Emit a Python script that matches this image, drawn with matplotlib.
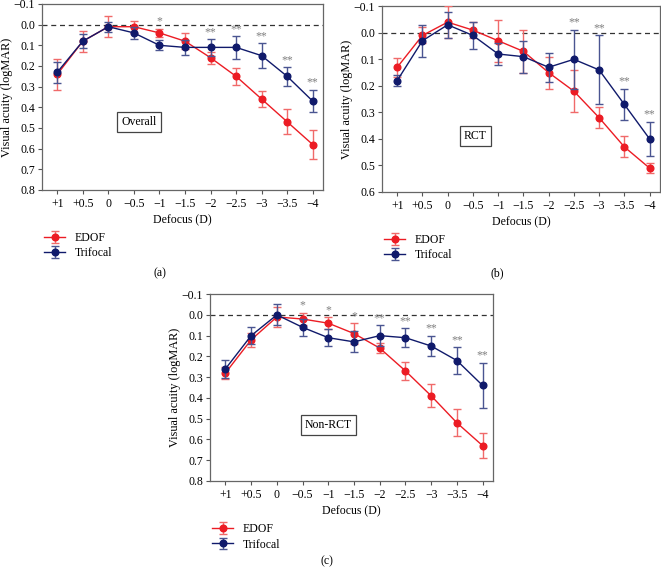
import numpy as np
import matplotlib
matplotlib.use("Agg")
import matplotlib.pyplot as plt

plt.rcParams['font.family'] = ['Liberation Serif', 'DejaVu Serif']

defocus = ["+1", "+0.5", "0", "\u22120.5", "\u22121", "\u22121.5", "\u22122",
           "\u22122.5", "\u22123", "\u22123.5", "\u22124"]

# (a) Overall
edof_a = [0.24, 0.08, 0.01, 0.01, 0.04, 0.08, 0.16, 0.25, 0.36, 0.47, 0.58]
edof_a_err = [0.075, 0.05, 0.05, 0.03, 0.02, 0.04, 0.03, 0.04, 0.04, 0.06, 0.07]
tri_a = [0.23, 0.08, 0.01, 0.04, 0.10, 0.11, 0.11, 0.11, 0.15, 0.25, 0.37]
tri_a_err = [0.05, 0.035, 0.025, 0.03, 0.025, 0.035, 0.04, 0.055, 0.06, 0.045, 0.055]
sig_a = ["", "", "", "", "*", "", "**", "**", "**", "**", "**"]

# (b) RCT
edof_b = [0.13, 0.01, -0.04, -0.01, 0.03, 0.07, 0.15, 0.22, 0.32, 0.43, 0.51]
edof_b_err = [0.035, 0.03, 0.06, 0.03, 0.08, 0.08, 0.06, 0.08, 0.04, 0.04, 0.02]
tri_b = [0.18, 0.03, -0.03, 0.01, 0.08, 0.09, 0.13, 0.10, 0.14, 0.27, 0.40]
tri_b_err = [0.02, 0.06, 0.05, 0.05, 0.04, 0.06, 0.055, 0.11, 0.13, 0.06, 0.065]
sig_b = ["", "", "", "", "", "", "", "**", "**", "**", "**"]

# (c) Non-RCT
edof_c = [0.28, 0.12, 0.01, 0.02, 0.04, 0.09, 0.16, 0.27, 0.39, 0.52, 0.63]
edof_c_err = [0.03, 0.035, 0.05, 0.03, 0.03, 0.05, 0.025, 0.045, 0.055, 0.065, 0.06]
tri_c = [0.26, 0.10, 0.00, 0.06, 0.11, 0.13, 0.10, 0.11, 0.15, 0.22, 0.34]
tri_c_err = [0.045, 0.04, 0.05, 0.04, 0.04, 0.05, 0.05, 0.045, 0.05, 0.065, 0.11]
sig_c = ["", "", "", "*", "*", "*", "**", "**", "**", "**", "**"]

RED = '#ec1c24'
NAVY = '#101a6b'
FIG_W = 661


def panel(ax, edof, edof_err, tri, tri_err, sig, ymax, name, box_x, box_y):
    x = np.arange(len(defocus))
    ax.axhline(0, color='#333333', ls=(0, (4, 3)), lw=0.9, zorder=1)
    ax.errorbar(x, edof, yerr=edof_err, color=RED, ecolor='#f06a6a',
                marker='o', ms=4.8, lw=1.0, elinewidth=1.0, capsize=3,
                capthick=1.0, label='EDOF', zorder=3)
    ax.errorbar(x, tri, yerr=tri_err, color=NAVY, ecolor='#4a5591',
                marker='o', ms=4.8, lw=1.0, elinewidth=1.0, capsize=3,
                capthick=1.0, label='Trifocal', zorder=4)
    for i, s in enumerate(sig):
        if s:
            top = min(edof[i] - edof_err[i], tri[i] - tri_err[i])
            ax.text(x[i], top - 0.005, s, ha='center', va='bottom',
                    fontsize=8.5, color='#808080')
    ax.set_xlim(-0.6, len(defocus) - 0.6)
    ax.set_ylim(ymax, -0.1)
    ax.set_yticks(np.arange(-0.1, ymax + 0.001, 0.1))
    ax.set_yticklabels(['\u22120.1'] + ['%.1f' % v for v in
                                        np.arange(0.0, ymax + 0.001, 0.1)])
    ax.set_xticks(x)
    ax.set_xticklabels(defocus)
    ax.tick_params(axis='y', labelsize=8.5, color='#555555', length=3, pad=2)
    ax.tick_params(axis='x', labelsize=8.5, color='#555555', length=3, pad=3)
    for sp in ax.spines.values():
        sp.set_color('#666666')
        sp.set_linewidth(0.9)
    ax.set_xlabel('Defocus (D)', fontsize=8.5, labelpad=3)
    ax.set_ylabel('Visual acuity (logMAR)', fontsize=8.8)
    w = ax.get_position().width * FIG_W
    ax.yaxis.set_label_coords(-29.0 / w, 0.5)
    ax.text(box_x, box_y, name, ha='center', va='center', fontsize=8.5,
            bbox=dict(boxstyle='square,pad=0.35', fc='white', ec='#444444',
                      lw=0.9))
    ax.legend(loc='upper left', bbox_to_anchor=(-0.01, -0.2),
              frameon=False, fontsize=8.5, handlelength=1.8, labelspacing=0.3,
              borderaxespad=0)


fig = plt.figure(figsize=(6.61, 5.68), dpi=100)
ax_a = fig.add_axes([0.0635, 0.6655, 0.425, 0.3275])
ax_b = fig.add_axes([0.578, 0.662, 0.42, 0.327])
ax_c = fig.add_axes([0.3177, 0.1532, 0.428, 0.329])

panel(ax_a, edof_a, edof_a_err, tri_a, tri_a_err, sig_a, 0.8, 'Overall',
      3.2, 0.47)
panel(ax_b, edof_b, edof_b_err, tri_b, tri_b_err, sig_b, 0.6, 'RCT',
      3.1, 0.39)
panel(ax_c, edof_c, edof_c_err, tri_c, tri_c_err, sig_c, 0.8, 'Non-RCT',
      4.0, 0.53)

fig.text(0.242, 0.519, '(a)', ha='center', va='center', fontsize=8.5)
fig.text(0.752, 0.519, '(b)', ha='center', va='center', fontsize=8.5)
fig.text(0.495, 0.012, '(c)', ha='center', va='center', fontsize=8.5)

fig.savefig('out.png', dpi=100)
